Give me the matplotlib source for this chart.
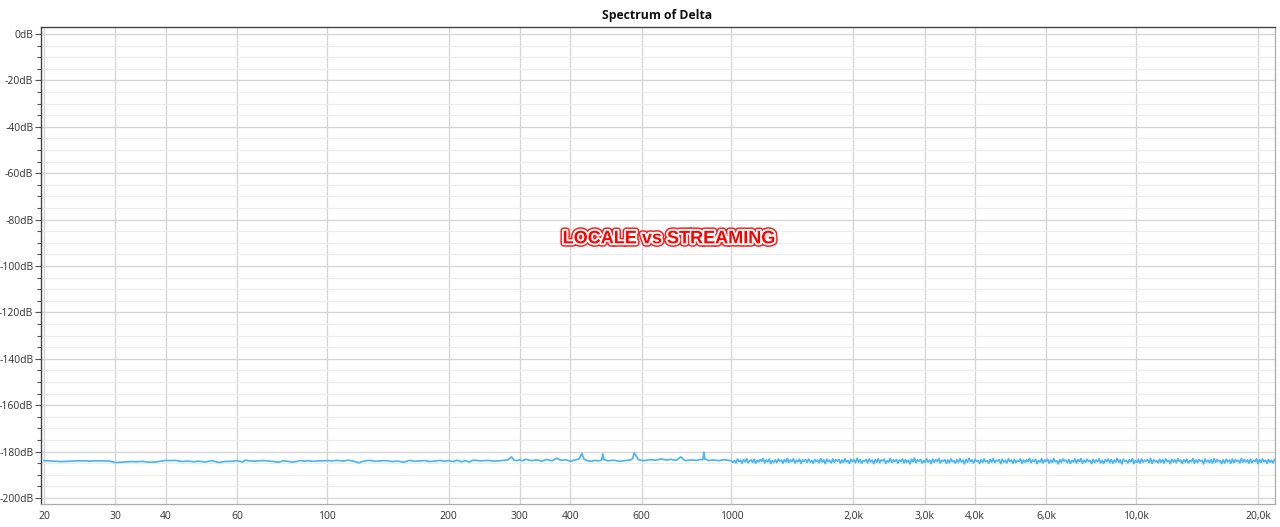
import numpy as np
import matplotlib
matplotlib.use("Agg")
import matplotlib.pyplot as plt
import matplotlib.patheffects as pe
from matplotlib.ticker import FixedLocator, MultipleLocator, NullFormatter

# ---- data ----
title = "Spectrum of Delta"
annotation = "LOCALE vs STREAMING"

x_ticks = [20, 30, 40, 60, 100, 200, 300, 400, 600, 1000, 2000, 3000, 4000, 6000, 10000, 20000]
x_labels = ["20", "30", "40", "60", "100", "200", "300", "400", "600", "1000",
            "2,0k", "3,0k", "4,0k", "6,0k", "10,0k", "20,0k"]
y_ticks = [0, -20, -40, -60, -80, -100, -120, -140, -160, -180, -200]
y_labels = ["0dB", "-20dB", "-40dB", "-60dB", "-80dB", "-100dB", "-120dB",
            "-140dB", "-160dB", "-180dB", "-200dB"]

low_freq = [20, 21, 22, 23, 24, 25, 26, 27, 28, 29, 30, 31, 32, 33, 34, 35, 36, 37, 38, 39,
            40, 41, 42, 43, 44, 45, 46, 47, 48, 50, 52, 54, 56, 58, 60, 62, 63, 64, 66, 68,
            70, 72, 74, 76, 78, 80, 82, 84, 86, 88, 90, 93, 96, 100, 103, 106, 110, 113, 116,
            120, 124, 128, 132, 136, 140, 145, 150, 155, 160, 165, 170, 175, 180, 185, 190,
            195, 200, 205, 210, 215, 220, 225, 230, 240, 250, 260, 270, 280, 286, 290, 295,
            300, 305, 310, 320, 330, 340, 350, 360, 370, 380, 390, 400, 410, 420, 427, 432,
            440, 450, 460, 470, 478, 481, 484, 495, 510, 530, 550, 565, 570, 575, 590, 610,
            630, 650, 670, 690, 710, 730, 750, 762, 770, 790, 820, 840, 850, 855, 860, 880,
            900, 930, 960, 1000]
low_db = [-183.9, -184.1, -184.3, -184.2, -184.0, -184.0, -184.1, -184.0, -184.0, -184.1,
          -184.7, -184.6, -184.4, -184.3, -184.4, -184.2, -184.5, -184.6, -184.4, -184.1,
          -183.8, -183.9, -183.8, -184.0, -184.3, -184.1, -184.2, -184.4, -184.1, -184.5,
          -183.9, -184.7, -184.3, -184.2, -183.9, -184.5, -183.6, -184.0, -184.1, -184.0,
          -183.9, -184.1, -184.3, -184.6, -184.0, -184.2, -184.5, -184.3, -183.9, -184.1,
          -184.0, -184.2, -184.0, -183.9, -184.0, -183.8, -184.1, -183.7, -184.1, -184.8,
          -184.0, -183.8, -184.2, -184.0, -183.9, -184.3, -184.1, -184.6, -183.8, -184.2,
          -184.0, -183.9, -184.3, -184.1, -183.8, -184.2, -183.9, -184.3, -183.7, -184.4,
          -183.9, -184.5, -183.7, -184.0, -183.8, -184.1, -183.9, -183.6, -182.3, -183.7,
          -183.9, -183.5, -184.0, -183.3, -183.9, -183.6, -184.1, -183.4, -184.0, -182.9,
          -183.8, -183.5, -184.2, -183.6, -183.2, -180.8, -183.3, -183.9, -184.2, -183.8,
          -184.0, -183.6, -181.0, -183.4, -184.0, -183.7, -184.2, -183.8, -183.5, -183.0,
          -180.6, -183.6, -183.9, -183.5, -183.7, -183.2, -183.6, -183.4, -183.8, -182.3,
          -183.5, -183.9, -183.6, -183.8, -183.4, -183.5, -180.2, -183.2, -183.9, -183.6,
          -183.9, -183.5, -184.0]

high_db = [-183.4, -184.6, -183.9, -184.9, -183.2, -184.3, -183.7, -185.1, -183.5, -184.4,
           -183.1, -184.8, -184.0, -183.6, -184.7, -183.3, -185.0, -183.8, -184.5, -183.4,
           -184.2, -183.0, -184.9, -183.6, -184.4, -183.2, -185.2, -183.9, -184.6, -183.5,
           -184.8, -183.3, -184.1, -183.7, -185.0, -183.4, -184.5, -182.9, -184.7, -183.6,
           -184.3, -183.1, -184.9, -183.8, -184.4, -183.3, -185.1, -183.6, -184.2, -183.5,
           -184.7, -183.2, -184.6, -183.9, -185.0, -183.4, -184.3, -183.7, -184.8, -183.0,
           -184.5, -183.6, -185.2, -183.3, -184.4, -183.8, -184.9, -183.2, -184.6, -183.5,
           -184.1, -183.4, -185.0, -183.7, -184.7, -183.1, -184.5, -183.9, -185.1, -183.3,
           -184.3, -183.6, -184.8, -182.9, -184.6, -183.5, -185.0, -183.8, -184.2, -183.4,
           -184.9, -183.2, -184.4, -183.7, -185.2, -183.5, -184.6, -183.1, -184.8, -183.6,
           -184.0, -183.3, -185.1, -183.9, -184.5, -183.0, -184.7, -183.6, -184.3, -183.4,
           -185.0, -183.7, -184.2, -183.2, -184.9, -183.5, -184.6, -183.8, -185.3, -183.3,
           -184.4, -182.8, -184.8, -183.6, -184.1, -183.4, -185.0, -183.9, -184.7, -183.1,
           -184.5, -183.7, -185.2, -183.3, -184.6, -183.5, -184.3, -183.0, -184.9, -183.8,
           -184.2, -183.4, -185.1, -183.6, -184.8, -183.2, -184.4, -183.9, -185.0, -183.5,
           -184.7, -183.1, -184.5, -183.7, -185.3, -183.4, -184.6, -182.9, -184.3, -183.6,
           -184.9, -183.3, -184.2, -183.8, -185.1, -183.5, -184.7, -183.2, -184.4, -183.9,
           -185.0, -183.4, -184.6, -183.0, -184.8, -183.7, -184.1, -183.5, -185.2, -183.3,
           -184.5, -183.8, -184.9, -183.1, -184.3, -183.6, -185.0, -183.4, -184.7, -183.9,
           -184.2, -183.2, -185.1, -183.7, -184.6, -183.5, -184.4, -182.9, -184.8, -183.6,
           -184.3, -183.4, -185.2, -183.8, -184.5, -183.1, -184.9, -183.6, -184.2, -183.3,
           -185.0, -183.7, -184.6, -183.0, -184.4, -183.9, -185.3, -183.5, -184.7, -183.2,
           -184.1, -183.6, -184.8, -183.4, -185.1, -183.8, -184.5, -183.2, -184.9, -183.5,
           -184.3, -183.0, -185.0, -183.7, -184.6, -183.3, -184.2, -183.9, -185.2, -183.4,
           -184.7, -183.6, -184.4, -183.1, -184.9, -183.8, -185.1, -183.5, -184.3, -183.2,
           -184.8, -183.4, -185.0, -183.7, -184.5, -182.9, -184.6, -183.6, -185.3, -183.3,
           -184.2, -183.8, -184.9, -183.5, -184.4, -183.1, -185.2, -183.9, -184.7, -183.4,
           -185.0, -183.2, -184.6, -183.7, -184.1, -183.5, -184.8, -183.0, -185.1, -183.6,
           -184.4, -183.9, -184.9, -183.3, -184.7, -183.5, -185.0, -183.2, -184.3, -183.8,
           -185.2, -183.4, -184.5, -183.6, -184.8, -183.1, -184.2, -183.7, -185.1, -183.5,
           -184.6, -183.3, -184.9, -183.9, -184.4, -183.0, -185.0, -183.6, -184.7, -183.4,
           -184.1, -183.8, -185.3, -183.2, -184.5, -183.7, -184.8, -183.5, -185.0, -183.1,
           -184.6, -183.4, -184.3, -183.9, -185.2, -183.6, -184.9, -183.3, -184.4, -183.7,
           -185.1, -183.2, -184.7, -183.5, -184.2, -183.8, -184.9, -183.0, -184.6, -183.4,
           -184.5, -183.6, -185.0, -183.3, -184.8, -183.9, -184.3, -183.1, -185.2, -183.5,
           -184.7, -183.2, -184.4, -183.7, -185.1, -183.4, -184.6, -183.8, -184.9, -183.3]
high_start, high_stop = 1000, 22000

# ---- figure ----
plt.rcParams['font.family'] = ['Open Sans', 'DejaVu Sans']
fig = plt.figure(figsize=(12.8, 5.27), dpi=100)
ax = fig.add_axes([0.032, 0.0436, 0.964, 0.9052])

high_freq = np.geomspace(high_start, high_stop, len(high_db))
freq = np.concatenate([low_freq, high_freq[1:]])
db = np.concatenate([low_db, high_db[1:]])
ax.plot(freq, db, color='#4ab6f7', lw=1.25, solid_joinstyle='round')

ax.set_xscale('log')
ax.set_xlim(19.66, 22030)
ax.set_ylim(-202.6, 3)

ax.xaxis.set_major_locator(FixedLocator(x_ticks))
ax.xaxis.set_minor_locator(FixedLocator([]))
ax.xaxis.set_minor_formatter(NullFormatter())
ax.set_xticks(x_ticks)
ax.set_xticklabels(x_labels)
ax.set_yticks(y_ticks)
ax.set_yticklabels(y_labels)
ax.yaxis.set_minor_locator(MultipleLocator(5))

ax.grid(True, which='major', axis='x', color='#d4d4d4', lw=0.9)
ax.grid(True, which='major', axis='y', color='#d4d4d4', lw=0.9)
ax.grid(True, which='minor', axis='y', color='#ececec', lw=0.8)
ax.set_axisbelow(True)

ax.tick_params(axis='y', which='major', length=4, width=0.8, color='#555555',
               labelsize=7.5, labelcolor='#333333', pad=1.5)
ax.tick_params(axis='y', which='minor', length=3, width=0.8, color='#555555')
ax.tick_params(axis='x', which='major', length=0, labelsize=7.5,
               labelcolor='#333333', pad=5)

for s in ['left', 'top']:
    ax.spines[s].set_color('#444444')
    ax.spines[s].set_linewidth(1.0)
for s in ['right', 'bottom']:
    ax.spines[s].set_color('#aaaaaa')
    ax.spines[s].set_linewidth(0.9)

fig.text(0.513, 0.97, title, ha='center', va='center', fontsize=8.8,
         fontweight='bold', color='#111111')

ax.text(0.509, 0.556, annotation, transform=ax.transAxes, ha='center', va='center',
        fontsize=13, fontweight='bold', color='#ff0000',
        family=['Liberation Sans', 'DejaVu Sans'],
        path_effects=[pe.Stroke(linewidth=5, foreground='#ff2020'),
                      pe.Stroke(linewidth=2.8, foreground='white'),
                      pe.Normal()])

fig.savefig('out.png', dpi=100, facecolor='white')
